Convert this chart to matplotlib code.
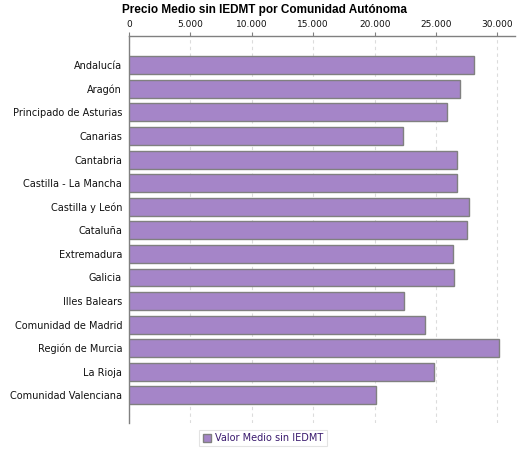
import matplotlib
matplotlib.use("Agg")
import matplotlib.pyplot as plt
from matplotlib.ticker import FuncFormatter
from matplotlib.patches import Patch

regions = ["Andalucía", "Aragón", "Principado de Asturias", "Canarias", "Cantabria",
           "Castilla - La Mancha", "Castilla y León", "Cataluña", "Extremadura",
           "Galicia", "Illes Balears", "Comunidad de Madrid", "Región de Murcia",
           "La Rioja", "Comunidad Valenciana"]
values = [28070, 26930, 25870, 22290, 26690, 26690, 27660, 27500, 26360,
          26440, 22370, 24070, 30110, 24810, 20090]
ticks = [0, 5000, 10000, 15000, 20000, 25000, 30000]
title = "Precio Medio sin IEDMT por Comunidad Autónoma"
series_name = "Valor Medio sin IEDMT"

plt.rcParams['font.family'] = ['DejaVu Sans']
fig = plt.figure(figsize=(5.25, 4.5), dpi=100)
ax = fig.add_axes([129/525, 1-423/450, (515-129)/525, (423-36)/450])

ypos = list(range(len(regions)))
ax.barh(ypos, values, height=0.76, color="#A585C8", edgecolor="#808080", linewidth=1.0, zorder=3)
ax.set_ylim(len(regions) - 1 + 1.17, -1.24)
ax.set_xlim(0, 31430)
ax.set_yticks(ypos)
ax.set_yticklabels(regions, fontsize=7, color="#111111")
ax.tick_params(axis='y', length=0, pad=5)
ax.xaxis.tick_top()
ax.set_xticks(ticks)
ax.xaxis.set_major_formatter(FuncFormatter(lambda v, p: f"{int(v):,}".replace(",", ".")))
ax.tick_params(axis='x', labelsize=6.5, length=3, color="#808080", pad=2, labelcolor="#111111")
ax.grid(axis='x', color="#dcdcdc", linestyle=(0, (3, 3)), linewidth=0.8, zorder=0)
for s in ["right", "bottom"]:
    ax.spines[s].set_visible(False)
for s in ["top", "left"]:
    ax.spines[s].set_color("#808080")
    ax.spines[s].set_linewidth(1.0)

fig.text(264/525, 1-10/450, title, ha="center", va="center", fontsize=8.5,
         fontweight="bold", family=["Liberation Sans", "DejaVu Sans"])

handle = Patch(facecolor="#A585C8", edgecolor="#808080", label=series_name)
leg = fig.legend(handles=[handle], loc="center", bbox_to_anchor=(263/525, 1-438/450),
                 fontsize=7, frameon=True, fancybox=False, handlelength=0.9, handleheight=0.9,
                 handletextpad=0.4, borderpad=0.35, labelcolor="#3a1a6e")
leg.get_frame().set_edgecolor("#dddddd")
leg.get_frame().set_linewidth(0.8)

fig.savefig("out.png", dpi=100)
